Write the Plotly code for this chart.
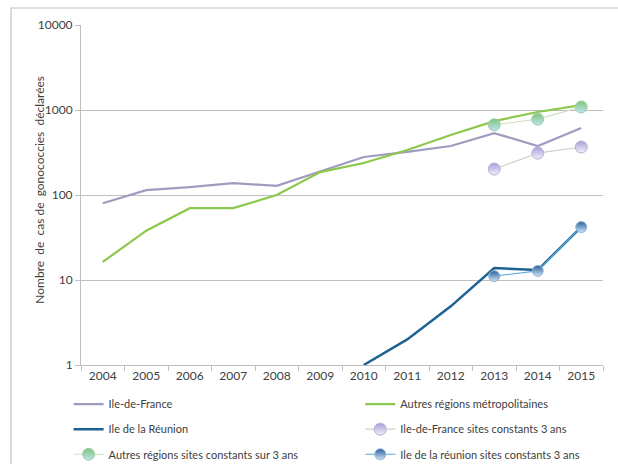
import plotly.graph_objects as go

years = ["2004", "2005", "2006", "2007", "2008", "2009", "2010", "2011", "2012", "2013", "2014", "2015"]
ile_de_france = [80, 114, 124, 138, 128, 190, 280, 321, 377, 535, 377, 615]
autres_regions = [16.3, 38, 70, 70, 100, 186, 238, 338, 508, 740, 947, 1140]
reunion = [None, None, None, None, None, None, 1, 2.0, 4.9, 13.8, 13.1, 42]

site_years = ["2013", "2014", "2015"]
idf_sites = [202, 311, 367]
autres_sites = [670, 780, 1085]
reunion_sites = [11.1, 12.8, 42]

y_ticks = [1, 10, 100, 1000, 10000]
y_tick_text = ["1", "10", "100", "1000", "10000"]
y_title = "Nombre  de  cas de  gonococcies  déclarées"

FONT = "Lato, Open Sans, sans-serif"
GRID = "#bfbfbf"
TEXT = "#404040"

fig = go.Figure()

fig.add_trace(go.Scatter(x=years, y=ile_de_france, mode="lines", name="Ile-de-France",
                         line=dict(color="#a09cc0", width=2.2), legend="legend"))
fig.add_trace(go.Scatter(x=years, y=autres_regions, mode="lines", name="Autres régions métropolitaines",
                         line=dict(color="#8cc84b", width=2.2), legend="legend2"))
fig.add_trace(go.Scatter(x=years, y=reunion, mode="lines", name="Ile de la Réunion",
                         line=dict(color="#1d6391", width=2.5), legend="legend3"))
fig.add_trace(go.Scatter(x=site_years, y=idf_sites, mode="lines+markers",
                         name="Ile-de-France sites constants 3 ans",
                         line=dict(color="#cfcfcf", width=1.2),
                         marker=dict(size=12, color="#a99fd8", symbol="circle",
                                     gradient=dict(type="vertical", color="#f2f0fb"),
                                     line=dict(color="#b7b0d6", width=1)),
                         legend="legend4"))
fig.add_trace(go.Scatter(x=site_years, y=autres_sites, mode="lines+markers",
                         name="Autres régions sites constants sur 3 ans",
                         line=dict(color="#cfe0bf", width=1.2),
                         marker=dict(size=12, color="#7fc47a", symbol="circle",
                                     gradient=dict(type="vertical", color="#bfe3f2"),
                                     line=dict(color="#9fcfa8", width=1)),
                         legend="legend5"))
fig.add_trace(go.Scatter(x=site_years, y=reunion_sites, mode="lines+markers",
                         name="Ile de la réunion sites constants 3 ans",
                         line=dict(color="#5aa9dc", width=1.2),
                         marker=dict(size=11, color="#2a5f9e", symbol="circle",
                                     gradient=dict(type="vertical", color="#cfe4f3"),
                                     line=dict(color="#8fb4d6", width=1)),
                         legend="legend6"))


def legend_at(x, y):
    return dict(xref="container", yref="container", x=x, y=y,
                xanchor="left", yanchor="middle", orientation="h",
                font=dict(family=FONT, size=11, color=TEXT),
                bgcolor="rgba(0,0,0,0)", itemwidth=30)


col1, col2 = 0.111, 0.583
row1, row2, row3 = 0.129, 0.075, 0.021

fig.update_layout(
    width=618, height=464,
    margin=dict(l=81, r=15, t=25, b=99, autoexpand=False),
    paper_bgcolor="white", plot_bgcolor="white",
    font=dict(family=FONT, size=12, color=TEXT),
    showlegend=True,
    legend=legend_at(col1, row1),
    legend2=legend_at(col2, row1),
    legend3=legend_at(col1, row2),
    legend4=legend_at(col2, row2),
    legend5=legend_at(col1, row3),
    legend6=legend_at(col2, row3),
    xaxis=dict(type="category", categoryorder="array", categoryarray=years,
               range=[-0.5, 11.5], showgrid=False, showline=True, linecolor=GRID,
               ticks="outside", tickson="boundaries", ticklen=5, tickcolor=GRID,
               tickfont=dict(family=FONT, size=12, color=TEXT)),
    yaxis=dict(type="log", range=[0, 4], tickvals=y_ticks, ticktext=y_tick_text,
               showgrid=True, gridcolor=GRID, gridwidth=1, showline=True, linecolor=GRID,
               ticks="outside", ticklen=5, tickcolor=GRID, zeroline=False,
               tickfont=dict(family=FONT, size=12, color=TEXT)),
    annotations=[dict(text=y_title, textangle=-90, xref="paper", yref="paper",
                      x=-0.079, y=0.515, xanchor="center", yanchor="middle",
                      showarrow=False, font=dict(family=FONT, size=12, color=TEXT))],
    shapes=[dict(type="rect", xref="paper", yref="paper",
                 x0=-0.134, x1=1.2, y0=-0.5, y1=1.05,
                 line=dict(color="#c0c0c0", width=1.2), fillcolor="rgba(0,0,0,0)",
                 layer="below")],
)

fig.write_html("out.html")
